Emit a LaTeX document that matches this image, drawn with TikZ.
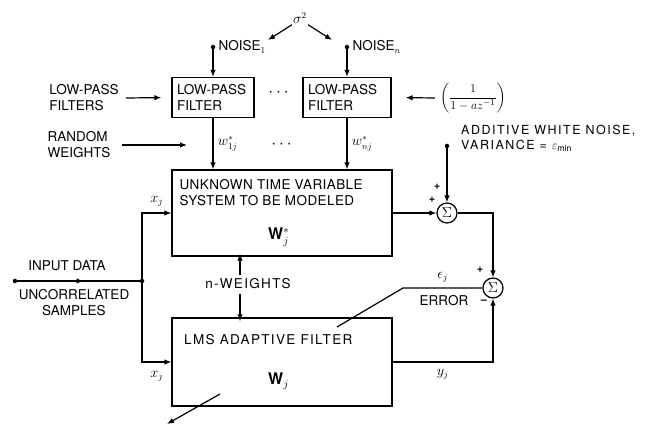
\documentclass[tikz,border=0pt]{standalone}
\usepackage{amsmath,amssymb}
\usepackage{fontspec}
\setmainfont{TeX Gyre Heros}
\usetikzlibrary{arrows.meta,positioning,calc}

\begin{document}
\begin{tikzpicture}[
  x=1pt, y=-1pt,
  font=\fontsize{13.5}{16}\selectfont,
  blk/.style={rectangle, draw=black, line width=1.3pt, inner sep=0pt},
  lpf/.style={blk, align=left, inner xsep=5pt, minimum height=40pt},
  sum/.style={circle, draw=black, line width=1.2pt, minimum size=20pt, inner sep=0pt},
  dot/.style={circle, fill=black, minimum size=4.5pt, inner sep=0pt},
  lbl/.style={inner sep=1pt, align=left},
  wide/.style={lbl, font=\fontsize{13.5}{16}\selectfont\addfontfeatures{LetterSpace=10}},
  sgn/.style={inner sep=0pt, font=\fontsize{11}{11}\selectfont\bfseries},
  arr/.style={-{Latex[length=7pt,width=5.5pt]}, line width=1.2pt},
  ln/.style={line width=1.2pt}
]
\useasboundingbox (0,0) rectangle (651,427);

% noise sources and low-pass filters
\node[lbl] (sg) at (300,18) {$\sigma^2$};
\coordinate (sgl) at (268,40);
\coordinate (sgr) at (332,40);
\node[dot] (n1) at (213,47) {};
\node[dot] (nn) at (347,47) {};
\node[lbl, right=2pt of n1] (n1t) {NOISE$_1$};
\node[lbl, right=2pt of nn] (nnt) {NOISE$_n$};
\node[lpf, text width=72pt] (lpf1) at (213,97.5) {LOW-PASS\\FILTER};
\node[lpf, text width=78pt] (lpfn) at (347,97.5) {LOW-PASS\\FILTER};
\node[lbl, font=\fontsize{18}{18}\selectfont] (dt1) at (280,93) {$\cdots$};
\node[lbl] (lpl) at (84,98) {LOW-PASS\\FILTERS};
\node[lbl, font=\fontsize{12.5}{12.5}\selectfont] (tf) at (473,98) {$\left(\dfrac{1}{1-az^{-1}}\right)$};
\draw[arr] (sg.south west) -- (sgl);
\draw[arr] (sg.south east) -- (sgr);
\draw[arr] (n1) -- (lpf1.north);
\draw[arr] (nn) -- (lpfn.north);
\draw[arr, shorten >=10pt] ([xshift=6pt]lpl.east) -- (lpf1.west);
\draw[arr, shorten >=14pt] ([xshift=-4pt]tf.west) -- (lpfn.east);

% unknown system
\node[blk, minimum width=220pt, minimum height=86pt] (sys) at (282,213) {};
\node[lbl, anchor=north west, font=\fontsize{13.5}{16}\selectfont\addfontfeatures{LetterSpace=3}] (syst) at ([shift={(7,9)}]sys.north west) {UNKNOWN TIME VARIABLE\\SYSTEM TO BE MODELED};
\node[lbl, anchor=base west, font=\fontsize{16}{16}\selectfont] (wst) at (267,240) {\textbf{W}$^*_j$};
\node[lbl] (rw) at (79,145) {RANDOM\\WEIGHTS};
\node[lbl, font=\fontsize{18}{18}\selectfont] (dt2) at (283,145) {$\cdots$};
\draw[arr] (lpf1.south) -- node[right=1pt] (w1) {$w^*_{1j}$} (lpf1.south |- sys.north);
\draw[arr] (lpfn.south) -- node[right=1pt] (wn) {$w^*_{nj}$} (lpfn.south |- sys.north);
\draw[arr, shorten >=26pt] ([xshift=10pt]rw.east) -- (rw.east -| lpf1.south);

% additive noise and summers
\node[dot] (an) at (447,146) {};
\node[wide, anchor=west, font=\fontsize{12.5}{15}\selectfont\addfontfeatures{LetterSpace=12}] (awn) at (460,138) {ADDITIVE WHITE NOISE,\\VARIANCE = $\varepsilon_{\min}$};
\node[sum] (s1) at (447,213) {$\Sigma$};
\node[sum] (s2) at (493,288) {$\Sigma$};
\node[sgn] (p1) at (437,187) {+};
\node[sgn] (p2) at (432,200) {+};
\node[sgn] (p3) at (480,270) {+};
\node[sgn] (m1) at (484,302) {--};
\draw[arr] (an) -- (s1.north);
\draw[arr] (sys.east |- s1) -- (s1.west);
\draw[arr] (s1.east) -| (s2.north);

% adaptive filter
\node[blk, minimum width=220pt, minimum height=88pt] (lms) at (282,362) {};
\node[wide, anchor=base west] (lmst) at (183,345) {LMS ADAPTIVE FILTER};
\node[lbl, anchor=base west, font=\fontsize{16}{16}\selectfont] (wj) at (267,385) {\textbf{W}$_j$};
\node[wide] (nw) at (248,284) {n-WEIGHTS};
\draw[arr] ([shift={(-8,-3)}]nw.north) -- ([shift={(-8,-3)}]nw.north |- sys.south);
\draw[arr] ([shift={(-8,4)}]nw.south) -- ([shift={(-8,4)}]nw.south |- lms.north);
\draw[arr] (lms.east) -| node[pos=0.25, below=3pt] (yj) {$y_j$} (s2.south);

% error path
\coordinate (eb) at (403,288);
\coordinate (ea) at (337,327);
\coordinate (da) at (220,394);
\coordinate (db) at (167,424);
\draw[ln] (s2.west) -- node[above=2pt] (ej) {$\epsilon_j$} (eb) -- (ea);
\draw[arr] (da) -- (db);
\node[lbl] (err) at (444,301) {ERROR};

% input data
\node[dot] (in) at (15,281) {};
\node[dot] (jn) at (142,281) {};
\node[lbl] (idt) at (67,266) {INPUT DATA};
\node[lbl, align=center] (ucs) at (74,303) {UNCORRELATED\\SAMPLES};
\draw[ln] (in) -- (jn);
\draw[arr] (in) -- ($(in)!0.54!(jn)$);
\draw[arr] (jn) |- node[pos=0.75, above=3pt] (xa) {$x_j$} (sys.west);
\draw[arr] (jn) |- node[pos=0.75, below=5pt] (xb) {$x_j$} (lms.west);
\end{tikzpicture}
\end{document}
